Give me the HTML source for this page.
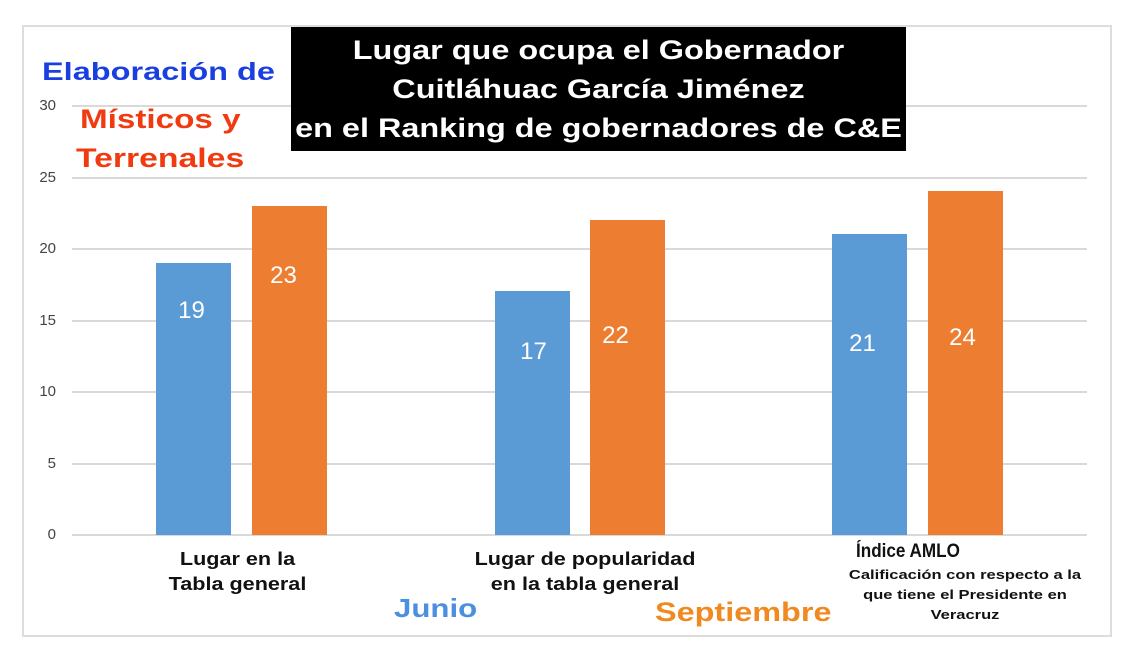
<!DOCTYPE html>
<html><head><meta charset="utf-8"><style>
body{margin:0;width:1140px;height:663px;background:#fff;position:relative;overflow:hidden;font-family:"Liberation Sans",Arial,sans-serif}
.a{position:absolute}
.g{position:absolute;left:72px;width:1015px;height:2px;background:#d9d9d9}
.t{position:absolute;left:30px;width:26px;text-align:right;font-size:15px;color:#444}
.b{position:absolute;width:75px}
.bl{background:#5b9bd5}.or{background:#ed7d31}
.v{position:absolute;width:75px;text-align:center;color:#fff;font-size:24px}
.l{position:absolute;font-weight:bold;text-align:center;color:#111}
.w{transform-origin:left center}
.c{transform-origin:center center}
</style></head><body>
<div class="a" style="left:22px;top:25px;width:1086px;height:608px;border:2px solid #ddd"></div>
<div class="g" style="top:105px"></div><div class="g" style="top:177px"></div><div class="g" style="top:248px"></div>
<div class="g" style="top:320px"></div><div class="g" style="top:391px"></div><div class="g" style="top:463px"></div><div class="g" style="top:534px"></div>
<div class="t" style="top:97px">30</div><div class="t" style="top:169px">25</div><div class="t" style="top:240px">20</div>
<div class="t" style="top:312px">15</div><div class="t" style="top:383px">10</div><div class="t" style="top:455px">5</div><div class="t" style="top:526px">0</div>
<div class="b bl" style="left:156px;top:263px;height:272px"></div>
<div class="b or" style="left:252px;top:206px;height:329px"></div>
<div class="b bl" style="left:495px;top:291px;height:244px"></div>
<div class="b or" style="left:590px;top:220px;height:315px"></div>
<div class="b bl" style="left:832px;top:234px;height:301px"></div>
<div class="b or" style="left:928px;top:191px;height:344px"></div>
<div class="v" style="left:154px;top:297px">19</div>
<div class="v" style="left:246px;top:262px">23</div>
<div class="v" style="left:496px;top:338px">17</div>
<div class="v" style="left:578px;top:322px">22</div>
<div class="v" style="left:825px;top:330px">21</div>
<div class="v" style="left:925px;top:324px">24</div>
<div class="a" style="left:291px;top:27px;width:615px;height:124px;background:#000"></div>
<div class="a c" style="left:291px;top:27px;width:615px;height:124px;color:#fff;font-weight:bold;font-size:27px;line-height:39px;text-align:center;padding-top:4px;box-sizing:border-box;transform:scaleX(1.2)">Lugar que ocupa el Gobernador<br>Cuitláhuac García Jiménez<br>en el Ranking de gobernadores de C&amp;E</div>
<div class="a w" style="left:42px;top:58px;font-weight:bold;font-size:25px;color:#1a3fe0;transform:scaleX(1.3)">Elaboración de</div>
<div class="a w" style="left:80px;top:104px;font-weight:bold;font-size:27px;color:#f03a10;transform:scaleX(1.23)">Místicos y</div>
<div class="a w" style="left:76px;top:143px;font-weight:bold;font-size:27px;color:#f03a10;transform:scaleX(1.25)">Terrenales</div>
<div class="l c" style="left:140px;top:547px;width:195px;font-size:18px;line-height:25px;transform:scaleX(1.2)">Lugar en la<br>Tabla general</div>
<div class="l c" style="left:460px;top:547px;width:250px;font-size:18px;line-height:25px;transform:scaleX(1.2)">Lugar de popularidad<br>en la tabla general</div>
<div class="l w" style="left:856px;top:541px;font-size:19px;text-align:left;transform:scaleX(0.9)">Índice AMLO</div>
<div class="l c" style="left:840px;top:565px;width:250px;font-size:13px;line-height:20px;transform:scaleX(1.27)">Calificación con respecto a la<br>que tiene el Presidente en<br>Veracruz</div>
<div class="a w" style="left:394px;top:593px;font-weight:bold;font-size:26px;color:#4a8fe0;transform:scaleX(1.2)">Junio</div>
<div class="a w" style="left:655px;top:597px;font-weight:bold;font-size:27px;color:#f08a20;transform:scaleX(1.2)">Septiembre</div>
</body></html>
